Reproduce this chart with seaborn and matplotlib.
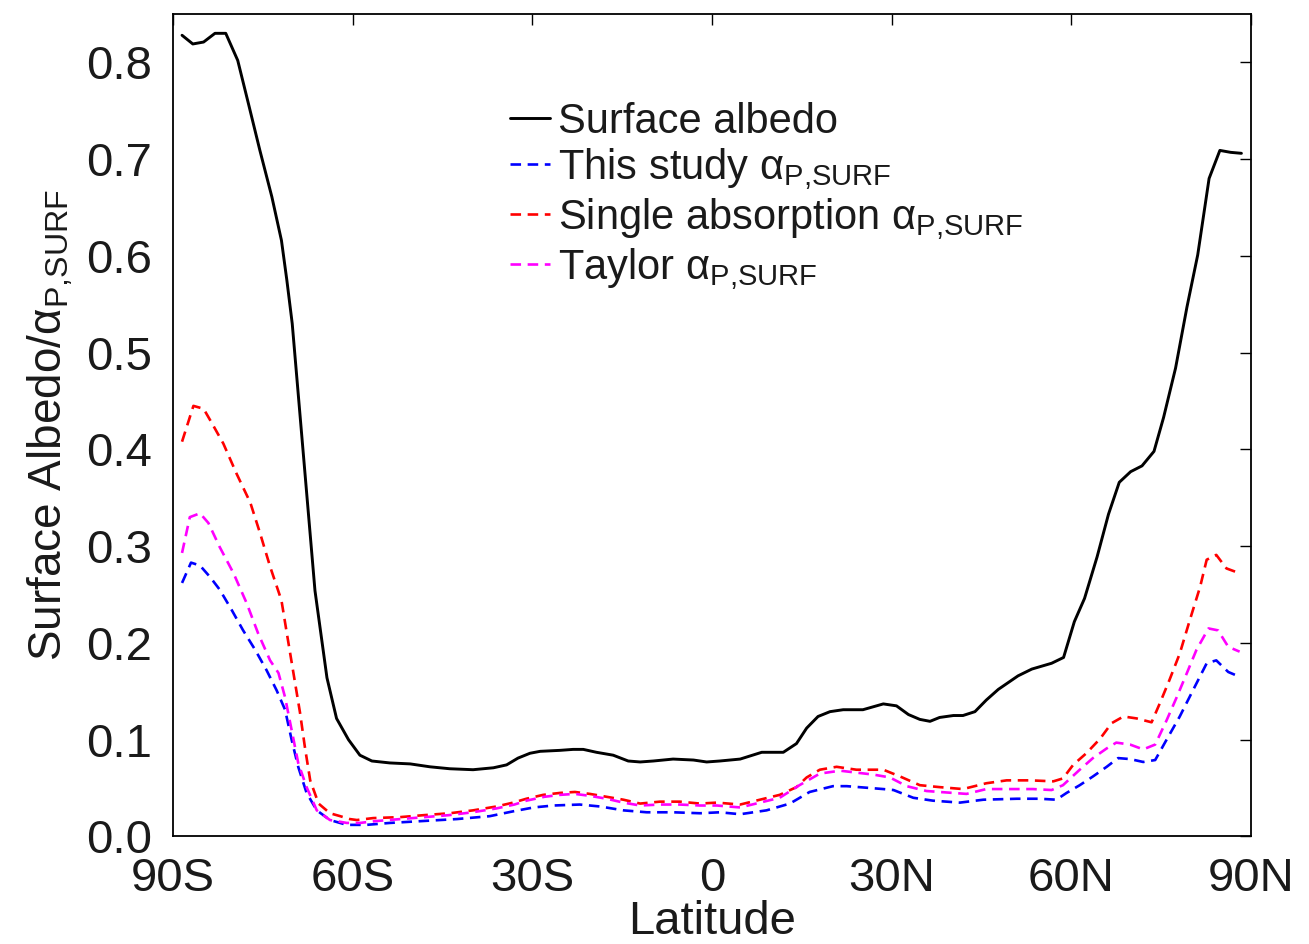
import numpy as np
import pandas as pd
import matplotlib
matplotlib.use("Agg")
import matplotlib.pyplot as plt
import seaborn as sns

# Surface albedo (black solid)
lat_alb = [-88.5, -86.7, -84.9, -83.0, -81.2, -79.2, -77.4, -75.5, -73.5, -71.9,
           -71.0, -70.1, -66.3, -64.3, -62.7, -60.7, -58.8, -56.8, -53.8, -50.4,
           -47.1, -43.8, -39.9, -36.5, -34.3, -32.4, -30.4, -28.7, -25.4, -23.2,
           -21.5, -19.3, -16.5, -14.0, -12.0, -9.8, -6.5, -3.1, -0.9, 1.3,
           4.7, 8.3, 11.9, 14.1, 15.8, 17.7, 19.7, 21.9, 25.2, 28.6,
           30.8, 32.8, 34.7, 36.4, 38.0, 40.3, 41.9, 43.9, 45.8, 47.8,
           51.1, 53.4, 56.7, 58.7, 60.5, 62.2, 64.3, 66.2, 68.0, 69.9,
           71.8, 73.8, 75.4, 77.4, 79.3, 81.1, 83.0, 84.8, 86.6, 88.4]
albedo = [0.828, 0.819, 0.821, 0.830, 0.830, 0.802, 0.757, 0.709, 0.661, 0.616,
          0.575, 0.530, 0.254, 0.164, 0.122, 0.100, 0.084, 0.078, 0.076, 0.075,
          0.072, 0.070, 0.069, 0.071, 0.074, 0.081, 0.086, 0.088, 0.089, 0.090,
          0.090, 0.087, 0.084, 0.078, 0.077, 0.078, 0.080, 0.079, 0.077, 0.078,
          0.080, 0.087, 0.087, 0.096, 0.112, 0.124, 0.129, 0.131, 0.131, 0.137,
          0.135, 0.126, 0.121, 0.119, 0.123, 0.125, 0.125, 0.129, 0.141, 0.152,
          0.166, 0.173, 0.179, 0.185, 0.222, 0.246, 0.289, 0.333, 0.366, 0.377,
          0.383, 0.398, 0.433, 0.484, 0.547, 0.601, 0.680, 0.709, 0.707, 0.706]

# This study (blue dashed)
lat_this = [-88.5, -87.0, -85.5, -83.8, -82.2, -80.2, -78.3, -76.3, -74.4, -72.7,
            -71.3, -70.2, -69.1, -67.7, -66.0, -63.8, -61.0, -57.7, -53.8, -48.2,
            -42.6, -37.1, -33.2, -29.8, -26.5, -22.1, -18.7, -14.8, -10.9, -6.5,
            -2.0, 1.3, 4.7, 9.1, 13.0, 16.3, 20.2, 22.5, 28.6, 30.3,
            33.6, 36.9, 41.4, 45.3, 50.9, 54.7, 57.5, 59.2, 61.4, 63.6,
            65.9, 67.8, 69.8, 72.0, 74.0, 75.9, 78.1, 80.3, 82.6, 84.2,
            86.2, 88.1]
this_study = [0.262, 0.283, 0.280, 0.268, 0.255, 0.234, 0.213, 0.193, 0.172, 0.151,
              0.131, 0.100, 0.072, 0.045, 0.027, 0.017, 0.012, 0.012, 0.014, 0.016,
              0.018, 0.021, 0.026, 0.030, 0.032, 0.033, 0.031, 0.027, 0.025, 0.025,
              0.024, 0.025, 0.023, 0.027, 0.034, 0.046, 0.052, 0.052, 0.049, 0.048,
              0.040, 0.037, 0.035, 0.038, 0.039, 0.039, 0.038, 0.045, 0.053, 0.062,
              0.072, 0.081, 0.080, 0.077, 0.079, 0.100, 0.124, 0.151, 0.179, 0.182,
              0.170, 0.165]

# Single absorption (red dashed)
lat_single = [-88.5, -86.6, -84.9, -83.5, -81.6, -79.4, -77.1, -75.5, -73.8, -71.9,
              -71.0, -69.9, -68.8, -68.0, -67.1, -65.7, -63.8, -62.1, -60.5, -59.3,
              -56.6, -52.1, -48.2, -43.8, -39.9, -36.0, -33.2, -31.0, -28.2, -25.4,
              -22.9, -20.4, -17.6, -14.8, -12.0, -8.7, -5.4, -2.0, 0.8, 4.7,
              8.0, 11.3, 14.1, 15.8, 18.0, 20.8, 24.1, 28.6, 31.4, 34.7,
              38.0, 41.9, 45.8, 49.2, 53.1, 57.0, 58.6, 60.3, 62.5, 64.8,
              66.7, 68.7, 70.9, 73.4, 74.8, 76.4, 78.1, 79.8, 81.5, 82.6,
              84.2, 85.9, 88.1]
single_abs = [0.408, 0.445, 0.442, 0.427, 0.406, 0.375, 0.345, 0.314, 0.279, 0.244,
              0.210, 0.169, 0.128, 0.093, 0.058, 0.034, 0.024, 0.021, 0.018, 0.017,
              0.019, 0.020, 0.022, 0.024, 0.027, 0.031, 0.035, 0.039, 0.043, 0.045,
              0.046, 0.044, 0.041, 0.038, 0.034, 0.036, 0.036, 0.034, 0.035, 0.033,
              0.038, 0.043, 0.051, 0.061, 0.069, 0.072, 0.069, 0.069, 0.062, 0.053,
              0.051, 0.049, 0.055, 0.058, 0.058, 0.057, 0.060, 0.074, 0.086, 0.101,
              0.117, 0.124, 0.122, 0.118, 0.138, 0.162, 0.189, 0.224, 0.258, 0.286,
              0.291, 0.277, 0.272]

# Taylor (magenta dashed)
lat_taylor = [-88.5, -87.2, -85.5, -84.1, -82.2, -79.9, -77.7, -75.8, -73.8, -72.4,
              -71.3, -70.2, -69.1, -67.7, -66.0, -63.8, -61.0, -58.8, -56.0, -52.0,
              -48.0, -44.0, -40.0, -36.0, -33.0, -31.0, -28.0, -25.4, -22.9, -20.4,
              -17.6, -14.8, -12.0, -8.7, -5.4, -2.0, 0.8, 4.7, 8.0, 11.3,
              14.6, 18.0, 21.4, 24.1, 26.9, 29.7, 32.5, 35.8, 38.0, 42.5,
              45.8, 49.2, 53.6, 56.7, 58.6, 61.4, 63.6, 65.9, 67.5, 69.8,
              72.0, 74.0, 75.9, 77.6, 79.3, 80.9, 82.9, 84.5, 86.2, 88.1]
taylor = [0.293, 0.330, 0.334, 0.324, 0.299, 0.272, 0.241, 0.210, 0.182, 0.169,
          0.144, 0.110, 0.076, 0.051, 0.027, 0.017, 0.014, 0.014, 0.016, 0.018,
          0.020, 0.022, 0.025, 0.029, 0.033, 0.037, 0.041, 0.043, 0.044, 0.042,
          0.039, 0.035, 0.032, 0.033, 0.033, 0.032, 0.032, 0.030, 0.035, 0.040,
          0.053, 0.065, 0.068, 0.066, 0.064, 0.061, 0.052, 0.047, 0.046, 0.044,
          0.049, 0.049, 0.049, 0.048, 0.053, 0.069, 0.081, 0.091, 0.097, 0.095,
          0.090, 0.095, 0.120, 0.144, 0.169, 0.193, 0.215, 0.213, 0.196, 0.191]

xticks = [-90, -60, -30, 0, 30, 60, 90]
xticklabels = ["90S", "60S", "30S", "0", "30N", "60N", "90N"]
yticks = [0.0, 0.1, 0.2, 0.3, 0.4, 0.5, 0.6, 0.7, 0.8]

sns.set_style("white")
plt.rcParams["font.family"] = ["Liberation Sans", "DejaVu Sans"]
plt.rcParams["mathtext.fontset"] = "custom"
plt.rcParams["mathtext.rm"] = "Liberation Sans"
plt.rcParams["mathtext.it"] = "Liberation Sans:italic"
plt.rcParams["text.color"] = "#1a1a1a"
plt.rcParams["axes.labelcolor"] = "#1a1a1a"

sub = r"$_{\mathrm{P{,}SURF}}$"
dash = (0, (4, 2.5))

fig = plt.figure(figsize=(13.09, 9.44), dpi=100)
ax = fig.add_axes([0.1322, 0.1139, 0.8235, 0.8713])

sns.lineplot(x=lat_alb, y=albedo, ax=ax, color="black", lw=2.1,
             estimator=None, label="Surface albedo")
sns.lineplot(x=lat_this, y=this_study, ax=ax, color="blue", lw=1.9,
             linestyle=dash, estimator=None, label="This study α" + sub)
sns.lineplot(x=lat_single, y=single_abs, ax=ax, color="red", lw=1.9,
             linestyle=dash, estimator=None, label="Single absorption α" + sub)
sns.lineplot(x=lat_taylor, y=taylor, ax=ax, color="magenta", lw=1.9,
             linestyle=dash, estimator=None, label="Taylor α" + sub)

ax.set_xlim(-90, 90)
ax.set_ylim(0, 0.85)
ax.set_xticks(xticks)
ax.set_xticklabels(xticklabels)
ax.set_yticks(yticks)
ax.set_yticklabels([f"{v:.1f}" for v in yticks])
ax.tick_params(direction="in", length=8, width=1, colors="black",
               labelcolor="#1a1a1a", labelsize=34, pad=15, top=True, right=True)
for s in ax.spines.values():
    s.set_color("black")
    s.set_linewidth(1.3)

ax.set_xlabel("Latitude", fontsize=34, labelpad=-1)
ax.set_ylabel("Surface Albedo/α" + sub, fontsize=33, labelpad=8)

ax.legend(loc="upper left", bbox_to_anchor=(0.3126, 0.893), frameon=False,
          fontsize=30, handlelength=0.95, handletextpad=0.2, labelspacing=0.1,
          borderpad=0, borderaxespad=0)

fig.savefig("out.png", dpi=100)
